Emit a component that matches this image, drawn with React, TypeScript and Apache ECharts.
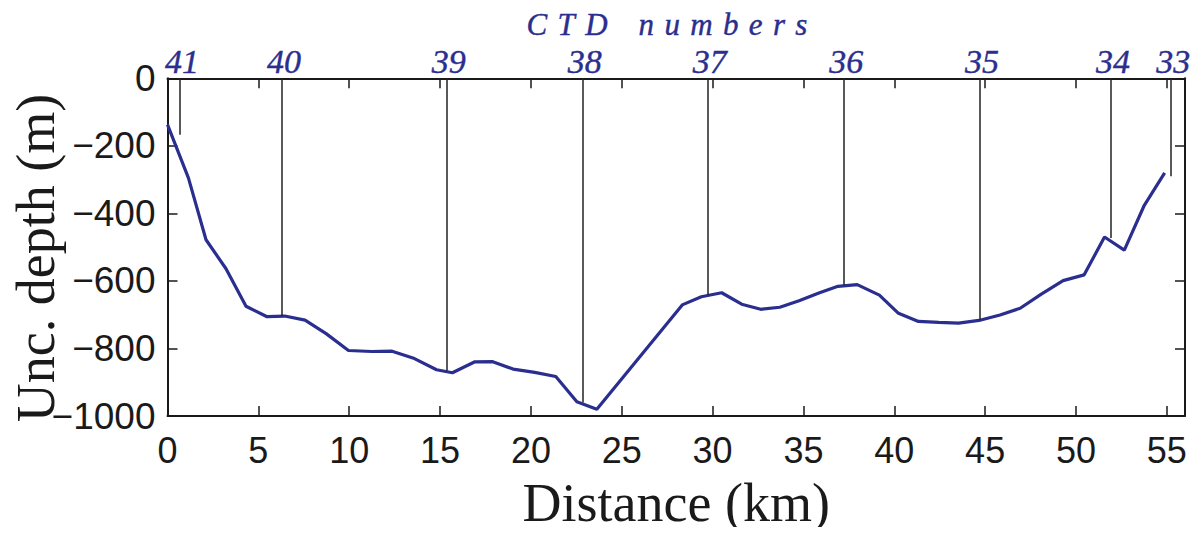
import React, { useEffect, useRef } from "react";
import * as echarts from "echarts";

// Along-section distance (km) and uncorrected bottom depth (m)
const distanceKm = [
  0, 1.15, 2.12, 3.22, 4.32, 5.48, 6.45, 7.57, 8.73, 9.96, 11.24, 12.36, 13.59,
  14.81, 15.68, 16.89, 17.9, 19.02, 20.21, 21.37, 22.53, 23.63, 28.33, 29.38,
  30.5, 31.6, 32.65, 33.7, 34.76, 35.85, 36.9, 37.96, 39.18, 40.23, 41.33,
  42.45, 43.54, 44.66, 45.82, 46.93, 48.07, 49.29, 50.45, 51.57, 52.66, 53.76,
  54.88,
];
const depthM = [
  -137, -295, -478, -564, -675, -706, -704, -716, -756, -806, -809, -808, -830,
  -863, -872, -840, -839, -861, -871, -883, -958, -980, -671, -647, -635, -669,
  -684, -678, -659, -636, -616, -611, -642, -696, -720, -723, -725, -717, -701,
  -681, -640, -599, -582, -470, -509, -376, -280,
];

// CTD stations: label, position along the section, cast depth
const ctdNumbers = ["41", "40", "39", "38", "37", "36", "35", "34", "33"];
const ctdDistanceKm = [0.69, 6.3, 15.37, 22.86, 29.74, 37.24, 44.72, 51.93, 55.24];
const ctdDepthM = [-167, -704, -866, -960, -642, -613, -716, -473, -290];

const xTickStep = 5;
const yTickStep = 200;

const BLUE = "#2a2e8e";
const INK = "#1a1a1a";
const SANS = "'Liberation Sans', Arial, Helvetica, sans-serif";
const SERIF = "'Liberation Serif', 'Times New Roman', serif";

// letter-spaced heading above the CTD labels
const GAP = "\u00a0\u200a";
const ctdHeading = ["C", "T", "D"].join(GAP) + GAP + GAP + GAP + ["n", "u", "m", "b", "e", "r", "s"].join(GAP);

export default function App() {
  const ref = useRef<HTMLDivElement>(null);

  useEffect(() => {
    if (!ref.current) return;
    const chart = echarts.init(ref.current, undefined, { renderer: "svg" });

    const tickCommon = {
      inside: true,
      length: 10,
      lineStyle: { color: INK, width: 1.5 },
    };
    const lineCommon = { show: true, onZero: false, lineStyle: { color: INK, width: 2 } };

    chart.setOption({
      animation: false,
      backgroundColor: "#ffffff",
      grid: { left: 167.5, right: 15, top: 78.3, bottom: 115, containLabel: false },
      xAxis: [
        {
          type: "value",
          position: "bottom",
          min: 0,
          max: 56,
          interval: xTickStep,
          axisLine: lineCommon,
          axisTick: tickCommon,
          splitLine: { show: false },
          axisLabel: {
            fontFamily: SANS,
            fontSize: 36,
            color: INK,
            margin: 16,
            formatter: (v: number) => (v % xTickStep === 0 ? String(v) : ""),
          },
          name: "Distance (km)",
          nameLocation: "middle",
          nameGap: 60,
          nameTextStyle: { fontFamily: SERIF, fontSize: 54, color: INK },
        },
        {
          type: "value",
          position: "top",
          min: 0,
          max: 56,
          interval: xTickStep,
          axisLine: lineCommon,
          axisTick: tickCommon,
          axisLabel: { show: false },
          splitLine: { show: false },
        },
      ],
      yAxis: [
        {
          type: "value",
          position: "left",
          min: -1000,
          max: 0,
          interval: yTickStep,
          axisLine: lineCommon,
          axisTick: tickCommon,
          splitLine: { show: false },
          axisLabel: {
            fontFamily: SANS,
            fontSize: 37,
            color: INK,
            margin: 12,
            formatter: (v: number) => (v < 0 ? "\u2212" + Math.abs(v) : String(v)),
          },
        },
        {
          type: "value",
          position: "right",
          min: -1000,
          max: 0,
          interval: yTickStep,
          axisLine: lineCommon,
          axisTick: tickCommon,
          axisLabel: { show: false },
          splitLine: { show: false },
        },
      ],
      graphic: [
        {
          type: "text",
          x: 36,
          y: 258,
          rotation: Math.PI / 2,
          style: {
            text: "Unc. depth (m)",
            font: `54px ${SERIF}`,
            fill: INK,
            align: "center",
            verticalAlign: "middle",
          },
        },
        {
          type: "text",
          x: 667,
          y: 24,
          style: {
            text: ctdHeading,
            font: `italic 31px ${SERIF}`,
            fill: BLUE,
            stroke: BLUE,
            lineWidth: 0.4,
            align: "center",
            verticalAlign: "middle",
          },
        },
      ],
      series: [
        {
          type: "line",
          data: ctdDistanceKm.map((x) => [x, 0]),
          symbol: "none",
          lineStyle: { width: 0, opacity: 0 },
          silent: true,
          z: 1,
          markLine: {
            silent: true,
            symbol: ["none", "none"],
            label: { show: false },
            lineStyle: { color: "#222222", width: 1.5, type: "solid" },
            data: ctdDistanceKm.map((x, i) => [
              { coord: [x, 0] },
              { coord: [x, ctdDepthM[i]] },
            ]),
          },
        },
        {
          type: "scatter",
          data: ctdDistanceKm.map((x, i) => ({ value: [x, 0], name: ctdNumbers[i] })),
          symbolSize: 0,
          silent: true,
          clip: false,
          itemStyle: { opacity: 1 },
          label: {
            show: true,
            position: "inside",
            offset: [2, -17],
            formatter: (p: any) => p.name,
            fontFamily: SERIF,
            fontStyle: "italic",
            fontSize: 34,
            color: BLUE,
            opacity: 1,
            textBorderColor: BLUE,
            textBorderWidth: 0.4,
            align: "center",
            verticalAlign: "middle",
          },
        },
        {
          type: "line",
          data: distanceKm.map((x, i) => [x, depthM[i]]),
          symbol: "none",
          lineStyle: { color: BLUE, width: 3.2 },
          z: 3,
        },
      ],
    });

    return () => chart.dispose();
  }, []);

  return <div ref={ref} style={{ width: 1200, height: 535, margin: -8 }} />;
}
